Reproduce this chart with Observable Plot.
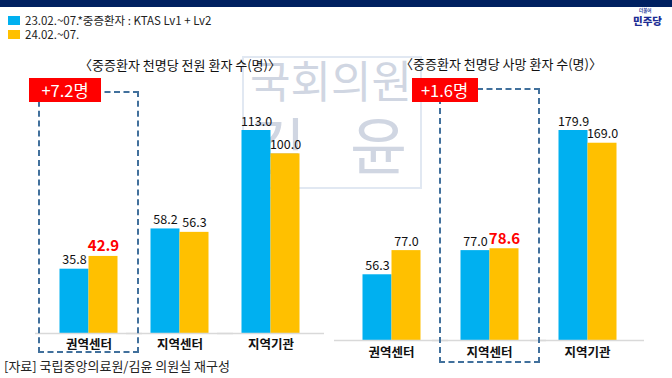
<!DOCTYPE html>
<html><head><meta charset="utf-8">
<script src="https://cdn.jsdelivr.net/npm/d3@7"></script>
<script src="https://cdn.jsdelivr.net/npm/@observablehq/plot@0.6"></script>
<style>
html,body{margin:0;padding:0;background:#fff;}
#page{position:relative;width:672px;height:378px;overflow:hidden;font-family:"Noto Sans CJK KR","Noto Sans",sans-serif;color:#111;}
.abs{position:absolute;}
.leg{left:8px;font-size:11.5px;line-height:11px;height:11px;display:flex;align-items:center;white-space:nowrap;color:#222;}
.sw{width:12px;height:9px;margin-right:5px;}
.title{font-size:13px;white-space:nowrap;transform:translateX(-50%);}
.wmt{color:#d0d6e2;white-space:nowrap;line-height:1;}
.tag{background:#ff0000;color:#fff;font-size:16.5px;line-height:24px;height:24px;text-align:center;white-space:nowrap;}
.box{border:2px dashed #41709c;box-sizing:border-box;}
svg{overflow:visible;}
</style></head>
<body><div id="page"></div>
<script>
const categories = ["권역센터", "지역센터", "지역기관"];
const seriesKeys = ["2023", "2024"];
const seriesNames = ["23.02.~07.*중증환자 : KTAS Lv1 + Lv2", "24.02.~07."];
const transfer2023 = [35.8, 58.2, 113.0];
const transfer2024 = [42.9, 56.3, 100.0];
const death2023 = [56.3, 77.0, 179.9];
const death2024 = [77.0, 78.6, 169.0];
const panelTitles = ["〈중증환자 천명당 전원 환자 수(명)〉", "〈중증환자 천명당 사망 환자 수(명)〉"];
const highlightCategories = ["권역센터", "지역센터"];
const highlightTexts = ["+7.2명", "+1.6명"];
const watermarkLines = ["국회의원", "김", "윤"];
const logoText = "민주당";
const logoSmall = "더불어";
const sourceNote = "[자료] 국립중앙의료원/김윤 의원실 재구성";

const colors = {"2023": "#00b0f0", "2024": "#ffc000"};
const FONT = '"Noto Sans CJK KR","Noto Sans",sans-serif';
const page = document.getElementById("page");

function el(cls, style, text) {
  const d = document.createElement("div");
  d.className = "abs " + cls;
  Object.assign(d.style, style);
  if (text != null) d.textContent = text;
  page.appendChild(d);
  return d;
}

el("", {left: "0", top: "0", width: "672px", height: "7px", background: "#002060"});

// watermark (behind the charts)
el("", {left: "242px", top: "56px", width: "176px", height: "129px", border: "2px solid #e1e8f2"});
el("wmt", {left: "250px", top: "57px", fontSize: "44px"}, watermarkLines[0]);
el("wmt", {left: "249px", top: "112px", fontSize: "62px"}, watermarkLines[1]);
el("wmt", {left: "350px", top: "112px", fontSize: "62px"}, watermarkLines[2]);

// legend
seriesKeys.forEach((k, i) => {
  const row = el("leg", {top: (15 + i * 14) + "px"});
  const sw = document.createElement("span");
  sw.className = "sw"; sw.style.background = colors[k];
  row.appendChild(sw);
  const t = document.createElement("span"); t.textContent = seriesNames[i];
  row.appendChild(t);
});

// logo
el("", {left: "639px", top: "8px", fontSize: "4.5px", lineHeight: "5px", color: "#2a3a9a", fontWeight: "700", whiteSpace: "nowrap"}, logoSmall);
el("", {left: "633px", top: "15px", fontSize: "10.5px", lineHeight: "11px", color: "#1b2c93", fontWeight: "900", whiteSpace: "nowrap"}, logoText);

// source
el("", {left: "4px", top: "356px", fontSize: "13px", color: "#222", whiteSpace: "nowrap"}, sourceNote);

const panels = [
  {v23: transfer2023, v24: transfer2024, left: 0, width: 336, ml: 42.5, mr: 20.5, mt: 130, mb: 45, po: 0.517, titleX: 180, titleY: 55, boxTop: 91, boxBottom: 353, tagShift: -9, tagW: 72},
  {v23: death2023, v24: death2024, left: 336, width: 336, ml: 5.5, mr: 35.5, mt: 130, mb: 38, po: 0.64, titleX: 501, titleY: 54, boxTop: 88, boxBottom: 363, tagShift: -27, tagW: 66}
];

panels.forEach((p, pi) => {
  const rows = [];
  categories.forEach((c, i) => {
    rows.push({cat: c, series: "2023", value: p.v23[i]});
    rows.push({cat: c, series: "2024", value: p.v24[i]});
  });
  const hl = highlightCategories[pi];
  const isHl = d => d.cat === hl && d.series === "2024";
  const catRows = categories.map(c => ({cat: c}));
  const chart = Plot.plot({
    width: p.width, height: 378,
    marginLeft: p.ml, marginRight: p.mr, marginTop: p.mt, marginBottom: p.mb,
    style: {fontFamily: FONT, background: "transparent", overflow: "visible"},
    fx: {domain: categories, padding: 0, axis: null, label: null},
    x: {domain: seriesKeys, paddingInner: 0, paddingOuter: p.po, axis: null},
    y: {domain: [0, d3.max(rows, d => d.value)], axis: null},
    color: {domain: seriesKeys, range: seriesKeys.map(k => colors[k])},
    marks: [
      Plot.barY(rows, {fx: "cat", x: "series", y: "value", fill: "series"}),
      Plot.ruleY([0], {stroke: "#d9d9d9", strokeWidth: 1.3, insetLeft: -8, insetRight: -8}),
      Plot.text(rows.filter(d => !isHl(d)), {fx: "cat", x: "series", y: "value", text: d => d.value.toFixed(1), dy: -9, fontSize: 12.5, fill: "#111"}),
      Plot.text(rows.filter(isHl), {fx: "cat", x: "series", y: "value", text: d => d.value.toFixed(1), dy: -10, fontSize: 15, fontWeight: "bold", fill: "#ff0000"}),
      Plot.text(catRows, {fx: "cat", frameAnchor: "bottom", dy: 15 + (pi ? 1 : 0), text: "cat", fontSize: 12.5, fontWeight: "bold", fill: "#111"})
    ]
  });
  chart.style.position = "absolute";
  chart.style.left = p.left + "px";
  chart.style.top = "0px";
  page.appendChild(chart);

  el("title", {left: p.titleX + "px", top: p.titleY + "px"}, panelTitles[pi]);

  const fx = chart.scale("fx");
  const cx = p.left + fx.apply(hl) + fx.bandwidth / 2;
  const bw = 101;
  el("box", {left: (cx - bw / 2) + "px", top: p.boxTop + "px", width: bw + "px", height: (p.boxBottom - p.boxTop) + "px"});
  el("tag", {left: (cx - bw / 2 + p.tagShift) + "px", top: "78px", width: p.tagW + "px"}, highlightTexts[pi]);
});
</script>
</body></html>
